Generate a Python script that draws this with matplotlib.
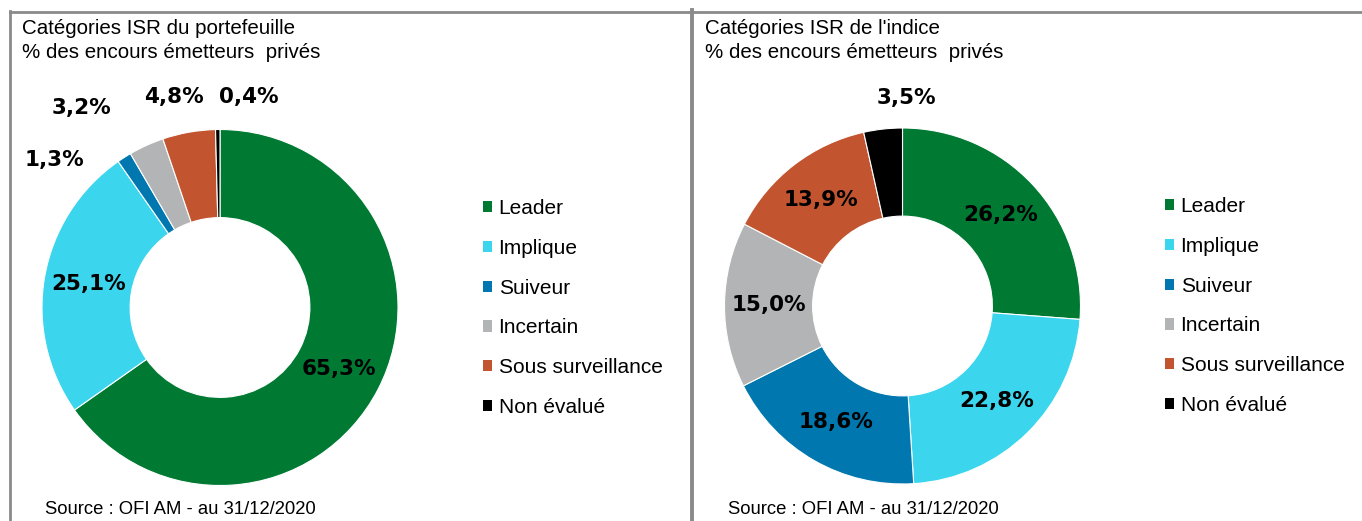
import matplotlib as mpl
mpl.use('Agg')
import matplotlib.pyplot as plt
from matplotlib.lines import Line2D
import numpy as np

#
#--- data
#
categories = ['Leader', 'Implique', 'Suiveur', 'Incertain',
              'Sous surveillance', 'Non évalué']
portefeuille = [65.3, 25.1, 1.3, 3.2, 4.8, 0.4]
indice = [26.2, 22.8, 18.6, 15.0, 13.9, 3.5]
colors = ['#007A33', '#3BD5EE', '#0077AE', '#B3B4B5', '#C25530', '#000000']

title_left = 'Catégories ISR du portefeuille'
title_right = "Catégories ISR de l'indice"
subtitle = '% des encours émetteurs  privés'
source = 'Source : OFI AM - au 31/12/2020'

W, H = 1362, 521
DPI = 100
R = 178.0           # donut outer radius in pixels
LIM = 1.35

#
#--- label placement: None -> inside the ring, else offset (in radius units)
#
left_outside = [None, None, (-0.933, 0.829), (-0.778, 1.121),
                (-0.258, 1.18), (0.16, 1.18)]
right_outside = [None, None, None, None, None, (0.022, 1.17)]


def fx(px):
    return px / W


def fy(py):
    return 1.0 - py / H


def fmt(v):
    return ('%.1f' % v).replace('.', ',') + '%'


#--------------------------------------------------------------------------------
#-- draw_donut: draw one donut chart centred at pixel (cx, cy)                 --
#--------------------------------------------------------------------------------

def draw_donut(fig, cx, cy, values, outside):
    s = LIM * R
    ax = fig.add_axes([fx(cx - s), fy(cy + s), 2 * s / W, 2 * s / H])
    wedges, _ = ax.pie(values, colors=colors, startangle=90, counterclock=False,
                       radius=1.0,
                       wedgeprops=dict(width=0.495, edgecolor='white', linewidth=0.8))
    ax.set_xlim(-LIM, LIM)
    ax.set_ylim(-LIM, LIM)
    ax.set_aspect('equal')
    ax.axis('off')

    for w, v, pos in zip(wedges, values, outside):
        if pos is None:
            ang = np.deg2rad(0.5 * (w.theta1 + w.theta2))
            x, y = 0.75 * np.cos(ang), 0.75 * np.sin(ang)
        else:
            x, y = pos
        ax.text(x, y, fmt(v), ha='center', va='center', fontsize=15.5,
                fontweight='bold', family='DejaVu Sans', color='black',
                clip_on=False)
    return ax, wedges


fig = plt.figure(figsize=(W / DPI, H / DPI), dpi=DPI)
fig.patch.set_facecolor('white')

#
#--- panel borders
#
bcol = '#8A8A8A'
blw = 2.0
fig.add_artist(Line2D([fx(10), fx(10)], [fy(11), fy(530)], color=bcol, lw=blw))
fig.add_artist(Line2D([fx(10), fx(692)], [fy(11.5), fy(11.5)], color=bcol, lw=blw))
fig.add_artist(Line2D([fx(692), fx(692)], [fy(10), fy(530)], color=bcol, lw=blw * 1.4))
fig.add_artist(Line2D([fx(692), fx(1370)], [fy(11.5), fy(11.5)], color=bcol, lw=blw))

#
#--- titles and source
#
tfont = dict(family='Liberation Sans', fontsize=14.8, color='black', va='center', ha='left')
fig.text(fx(22), fy(29), title_left, **tfont)
fig.text(fx(22), fy(53), subtitle, **tfont)
fig.text(fx(705), fy(29), title_right, **tfont)
fig.text(fx(705), fy(53), subtitle, **tfont)

sfont = dict(family='Liberation Sans', fontsize=13.3, color='black', va='center', ha='left')
fig.text(fx(45), fy(510), source, **sfont)
fig.text(fx(728), fy(510), source, **sfont)

#
#--- donuts
#
axl, wl = draw_donut(fig, 220, 307.5, portefeuille, left_outside)
axr, wr = draw_donut(fig, 902.5, 306, indice, right_outside)

#
#--- legends
#
for wedges, lx, ly in [(wl, 483, 308), (wr, 1165, 306)]:
    leg = fig.legend(wedges, categories, loc='center left',
                     bbox_to_anchor=(fx(lx), fy(ly)),
                     bbox_transform=fig.transFigure,
                     frameon=False, borderpad=0, borderaxespad=0,
                     handlelength=0.45, handleheight=0.45, handletextpad=0.3,
                     labelspacing=1.0,
                     prop=dict(family='Liberation Sans', size=15))
    for h in leg.legend_handles:
        h.set_edgecolor('none')

plt.savefig('out.png', dpi=DPI, facecolor='white')
plt.close('all')
